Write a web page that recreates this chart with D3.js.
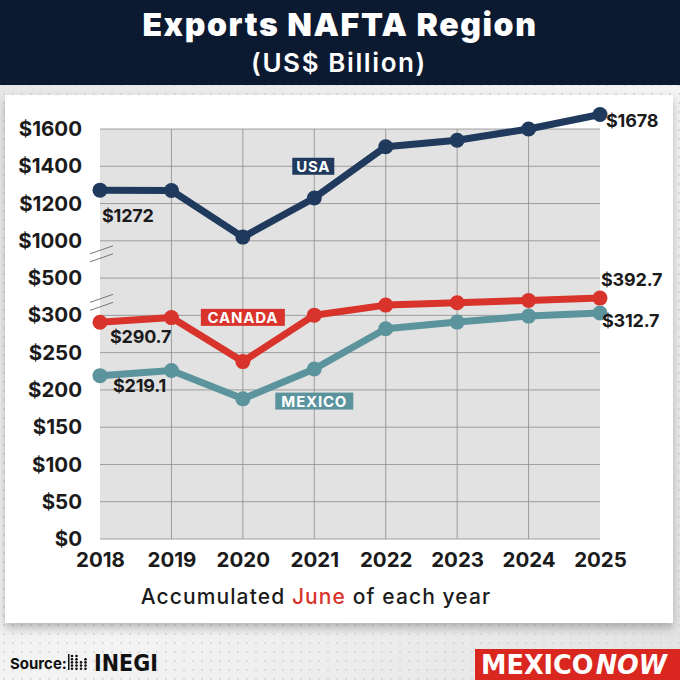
<!DOCTYPE html>
<html>
<head>
<meta charset="utf-8">
<script src="https://cdn.jsdelivr.net/npm/d3@7"></script>
<style>
  html, body { margin: 0; padding: 0; background: #ebebeb; }
  svg { display: block; font-family: Inter, "Open Sans", sans-serif; }
</style>
</head>
<body>
<div id="visual"></div>
<script>
// data
var years = [2018, 2019, 2020, 2021, 2022, 2023, 2024, 2025];
var usaValues = [1272, 1270, 1020, 1230, 1505, 1540, 1600, 1678];
var canadaValues = [290.7, 297, 238, 301, 355, 368, 380, 392.7];
var mexicoValues = [219.1, 226, 188, 228, 282, 291, 299, 312.7];
var yTicks = [0, 50, 100, 150, 200, 250, 300, 500, 1000, 1200, 1400, 1600];
var seriesNames = ["USA", "CANADA", "MEXICO"];

var width = 680,
  height = 680;

var svg = d3
  .select("#visual")
  .append("svg")
  .attr("width", width)
  .attr("height", height);

var defs = svg.append("defs");

// page background
var bg = defs.append("linearGradient").attr("id", "bg")
  .attr("x1", "0").attr("y1", "0").attr("x2", "1").attr("y2", "1");
bg.append("stop").attr("offset", "0").attr("stop-color", "#e6e6e6");
bg.append("stop").attr("offset", "0.55").attr("stop-color", "#f4f4f4");
bg.append("stop").attr("offset", "1").attr("stop-color", "#e2e2e2");

var dots = defs.append("pattern").attr("id", "dots")
  .attr("width", 9).attr("height", 9).attr("patternUnits", "userSpaceOnUse");
dots.append("circle").attr("cx", 4).attr("cy", 4).attr("r", 0.9).attr("fill", "#d2d2d2");

var shadow = defs.append("filter").attr("id", "shadow")
  .attr("x", "-5%").attr("y", "-5%").attr("width", "110%").attr("height", "115%");
shadow.append("feDropShadow").attr("dx", 0).attr("dy", 5).attr("stdDeviation", 5)
  .attr("flood-color", "#000").attr("flood-opacity", 0.25);

svg.append("rect").attr("width", width).attr("height", height).attr("fill", "url(#bg)");
svg.append("rect").attr("y", 85).attr("width", width).attr("height", 595).attr("fill", "url(#dots)");

// header
svg.append("rect").attr("width", width).attr("height", 85).attr("fill", "#0c1a31");
svg.append("text")
  .attr("x", 340).attr("y", 36)
  .attr("text-anchor", "middle")
  .attr("fill", "#fff")
  .attr("font-size", 32)
  .attr("font-weight", 900)
  .attr("letter-spacing", 1.6)
  .text("Exports NAFTA Region");
svg.append("text")
  .attr("x", 339).attr("y", 72)
  .attr("text-anchor", "middle")
  .attr("fill", "#fff")
  .attr("font-size", 26)
  .attr("font-weight", 600)
  .attr("letter-spacing", 1.6)
  .text("(US$ Billion)");

// white card
svg.append("rect")
  .attr("x", 5).attr("y", 95)
  .attr("width", 668).attr("height", 528)
  .attr("fill", "#fff")
  .attr("filter", "url(#shadow)");

// scales
var plotLeft = 100,
  plotRight = 600,
  plotTop = 129,
  plotBottom = 539;
var step = (plotBottom - plotTop) / 11;

var xScale = d3
  .scalePoint()
  .domain(years)
  .range([plotLeft, plotRight]);

// broken axis: 0-300 by 50, then 500, 1000, then 1000-1600 by 200
var yScale = d3
  .scaleLinear()
  .domain([0, 300, 500, 1000, 1600])
  .range([plotBottom, plotBottom - 6 * step, plotBottom - 7 * step, plotBottom - 8 * step, plotTop]);

// plot background
svg.append("rect")
  .attr("x", plotLeft).attr("y", plotTop)
  .attr("width", plotRight - plotLeft).attr("height", plotBottom - plotTop)
  .attr("fill", "#e2e2e2");

// grid
svg.append("g")
  .selectAll("line")
  .data(yTicks)
  .enter()
  .append("line")
  .attr("x1", plotLeft).attr("x2", plotRight)
  .attr("y1", d => yScale(d)).attr("y2", d => yScale(d))
  .attr("stroke", "#8c8c8c")
  .attr("stroke-width", 0.8);

svg.append("g")
  .selectAll("line")
  .data(years.slice(1, -1))
  .enter()
  .append("line")
  .attr("x1", d => xScale(d)).attr("x2", d => xScale(d))
  .attr("y1", plotTop).attr("y2", plotBottom)
  .attr("stroke", "#8c8c8c")
  .attr("stroke-width", 0.8);

// y axis
var yAxis = svg.append("g")
  .attr("transform", "translate(" + 82 + ",0)")
  .call(d3.axisLeft(yScale).tickValues(yTicks).tickSize(0).tickPadding(0).tickFormat(d => "$" + d));
yAxis.select(".domain").remove();
yAxis.selectAll("text")
  .attr("font-size", 20.5)
  .attr("font-weight", 700)
  .attr("fill", "#1b1b1b")
  .attr("font-family", "Inter, sans-serif");

// x axis
var xAxis = svg.append("g")
  .attr("transform", "translate(0," + 552 + ")")
  .call(d3.axisBottom(xScale).tickSize(0).tickPadding(0).tickFormat(d => d));
xAxis.select(".domain").remove();
xAxis.selectAll("text")
  .attr("font-size", 20.5)
  .attr("font-weight", 700)
  .attr("fill", "#1b1b1b")
  .attr("font-family", "Inter, sans-serif");

// axis break marks
[yScale(1000) + 13, yScale(300) - 13].forEach(function(y) {
  [-4, 4].forEach(function(o) {
    svg.append("line")
      .attr("x1", 90).attr("y1", y + o + 4)
      .attr("x2", 113).attr("y2", y + o - 4)
      .attr("stroke", "#777")
      .attr("stroke-width", 1);
  });
});

// axis title
var xt = svg.append("text")
  .attr("x", 316).attr("y", 604)
  .attr("text-anchor", "middle")
  .attr("font-size", 21)
  .attr("font-weight", 500)
  .attr("letter-spacing", 1.1)
  .attr("fill", "#1b1b1b");
xt.append("tspan").text("Accumulated ");
xt.append("tspan").attr("fill", "#d8342c").text("June");
xt.append("tspan").text(" of each year");

// series lines
var series = [
  { name: seriesNames[0], values: usaValues, color: "#1f3a5c" },
  { name: seriesNames[1], values: canadaValues, color: "#d8342c" },
  { name: seriesNames[2], values: mexicoValues, color: "#5b949c" }
];

var line = d3.line()
  .x((d, i) => xScale(years[i]))
  .y(d => yScale(d));

series.forEach(function(s) {
  svg.append("path")
    .datum(s.values)
    .attr("d", line)
    .attr("fill", "none")
    .attr("stroke", s.color)
    .attr("stroke-width", 7)
    .attr("stroke-linejoin", "round");
  svg.append("g")
    .selectAll("circle")
    .data(s.values)
    .enter()
    .append("circle")
    .attr("cx", (d, i) => xScale(years[i]))
    .attr("cy", d => yScale(d))
    .attr("r", 7.5)
    .attr("fill", s.color);
});

// value labels
var valueLabel = function(x, y, value, anchor) {
  svg.append("text")
    .attr("x", x).attr("y", y)
    .attr("text-anchor", anchor || "start")
    .attr("dominant-baseline", "central")
    .attr("font-size", 18)
    .attr("font-weight", 700)
    .attr("fill", "#1b1b1b")
    .attr("letter-spacing", -0.2)
    .text("$" + value);
};
var last = years.length - 1;
valueLabel(xScale(years[0]) + 2, yScale(usaValues[0]) + 25, usaValues[0]);
valueLabel(xScale(years[last]) + 6, yScale(usaValues[last]) + 6, usaValues[last]);
valueLabel(xScale(years[0]) + 10, yScale(canadaValues[0]) + 14, canadaValues[0]);
valueLabel(xScale(years[last]) + 1, yScale(canadaValues[last]) - 19, canadaValues[last]);
valueLabel(xScale(years[0]) + 13, yScale(mexicoValues[0]) + 10, mexicoValues[0]);
valueLabel(xScale(years[last]) + 2, yScale(mexicoValues[last]) + 8, mexicoValues[last]);

// series name tags
var tag = function(cx, cy, w, label, color) {
  svg.append("rect")
    .attr("x", cx - w / 2).attr("y", cy - 8.5)
    .attr("width", w).attr("height", 17)
    .attr("fill", color);
  svg.append("text")
    .attr("x", cx).attr("y", cy + 0.5)
    .attr("text-anchor", "middle")
    .attr("dominant-baseline", "central")
    .attr("font-size", 15)
    .attr("font-weight", 700)
    .attr("letter-spacing", 0.8)
    .attr("fill", "#fff")
    .text(label);
};
tag(xScale(2021) - 1, yScale(1400), 42, series[0].name, series[0].color);
tag(xScale(2020), yScale(300) + 2, 84, series[1].name, series[1].color);
tag(xScale(2021), yScale(185), 78, series[2].name, series[2].color);

// footer: source
svg.append("text")
  .attr("x", 10).attr("y", 669)
  .attr("font-size", 15)
  .attr("font-weight", 700)
  .attr("fill", "#111")
  .text("Source:");

// INEGI logo: small dot grid + wordmark
var logo = svg.append("g").attr("transform", "translate(68,654)");
logo.append("rect").attr("x", 0).attr("y", 0).attr("width", 1.5).attr("height", 16).attr("fill", "#111");
d3.range(4).forEach(function(c) {
  d3.range(5).forEach(function(r) {
    if (r >= 4 - c || c < 2) {
      logo.append("circle")
        .attr("cx", 4 + c * 4.5).attr("cy", 2 + r * 3.2)
        .attr("r", 1.3).attr("fill", "#111");
    }
  });
});
svg.append("text")
  .attr("x", 94).attr("y", 671)
  .attr("font-size", 23)
  .attr("font-weight", 700)
  .attr("font-family", "'Liberation Sans Narrow', 'DejaVu Sans Condensed', sans-serif")
  .attr("fill", "#111")
  .text("INEGI");

// footer: brand
svg.append("rect")
  .attr("x", 475).attr("y", 649)
  .attr("width", 205).attr("height", 31)
  .attr("fill", "#d9261e");
var brand = svg.append("text")
  .attr("x", 481).attr("y", 674)
  .attr("font-size", 27)
  .attr("font-family", "'Liberation Sans Narrow', 'DejaVu Sans Condensed', sans-serif")
  .attr("font-weight", 700)
  .attr("fill", "#fff")
  .attr("textLength", 186)
  .attr("lengthAdjust", "spacingAndGlyphs");
brand.append("tspan").text("MEXICO");
brand.append("tspan").attr("font-style", "italic").attr("dx", 2).text("NOW");
</script>
</body>
</html>
